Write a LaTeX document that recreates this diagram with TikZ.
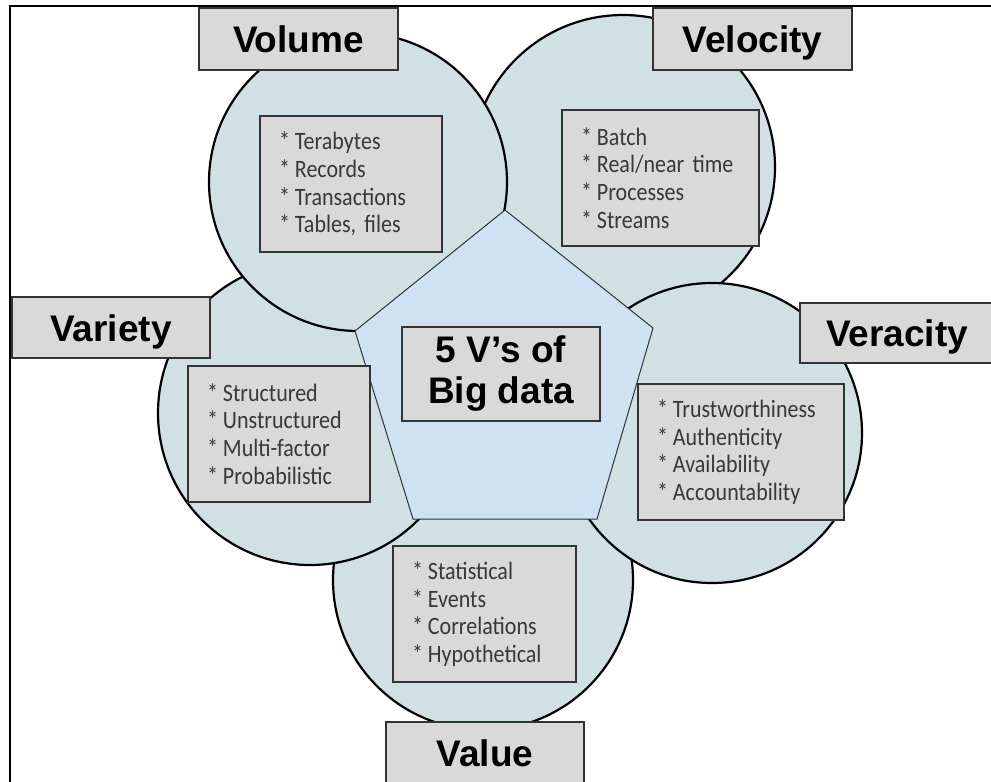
\documentclass[tikz,border=0pt]{standalone}
\usepackage{fontspec}
\setmainfont{Liberation Sans}
\newfontfamily\itemfont[FakeStretch=0.88]{Carlito}

\definecolor{circfill}{HTML}{D0E0E3}
\definecolor{pentfill}{HTML}{CFE2F3}
\definecolor{boxfill}{HTML}{D9D9D9}
\definecolor{boxline}{HTML}{333333}
\definecolor{itemtext}{HTML}{383838}

% star in front of each list line
\newcommand{\st}{{*}\hskip 5pt}

\begin{document}
\begin{tikzpicture}[x=1pt, y=-1pt]
\tikzset{vcircle/.style={circle, draw=black, line width=2.2pt, fill=circfill, inner sep=0pt},
         vname/.style={draw=boxline, line width=1.3pt, fill=boxfill, minimum width=199pt, minimum height=62pt,
                       inner sep=0pt, text height=27pt, text depth=0pt,
                       font=\fontsize{37}{40}\bfseries\selectfont},
         itembox/.style={draw=boxline, line width=1.3pt, fill=boxfill, inner xsep=19pt, inner ysep=0pt,
                         align=left, text=itemtext, font=\itemfont\fontsize{25}{27.7}\selectfont}}
\useasboundingbox (0,0) rectangle (991,782);
\clip (0,0) rectangle (991,782);

% frame
\draw[line width=2.2pt] (10,800) -- (10,6) -- (1000,6);

% the five circles, lower ones first
\node[vcircle, minimum size=304pt] (velc) at (623,167) {};
\node[vcircle, minimum size=300pt] (valc) at (483,580) {};
\node[vcircle, minimum size=300pt] (verc) at (712,433) {};
\node[vcircle, minimum size=304pt] (varc) at (310,413) {};
\node[vcircle, minimum size=298pt] (volc) at (358,182) {};

% pentagon in the middle
\draw[draw=boxline, line width=1pt, fill=pentfill]
  (505,210) -- (653,328) -- (597,519) -- (413,519) -- (355,331) -- cycle;
\node[vname, minimum width=198pt, minimum height=94pt, text height=, text depth=, align=center] (big) at (501,374)
  {5 V’s of\\[1pt]Big data};

% lists
\node[itembox, text width=144pt, minimum height=136pt] (volitems) at (351,184)
  {\st Terabytes\\\st Records\\\st Transactions\\\st Tables, files};
\node[itembox, text width=159pt, minimum height=136pt] (velitems) at (660.5,178)
  {\st Batch\\\st Real/near time\\\st Processes\\\st Streams};
\node[itembox, text width=144pt, minimum height=136pt] (varitems) at (279,434)
  {\st Structured\\\st Unstructured\\\st Multi-factor\\\st Probabilistic};
\node[itembox, text width=168pt, minimum height=136pt] (veritems) at (741,452)
  {\st Trustworthiness\\\st Authenticity\\\st Availability\\\st Accountability};
\node[itembox, text width=145pt, minimum height=136pt] (valitems) at (484.5,614)
  {\st Statistical\\\st Events\\\st Correlations\\\st Hypothetical};

% names
\node[vname] (vol) at (298.5,39) {Volume};
\node[vname] (vel) at (752.5,39) {Velocity};
\node[vname, minimum width=198pt, minimum height=61pt] (var) at (111,327.5) {Variety};
\node[vname, minimum width=194pt, minimum height=60pt] (ver) at (897,333) {Veracity};
\node[vname, minimum width=198pt] (val) at (485,753) {Value};

\end{tikzpicture}
\end{document}
